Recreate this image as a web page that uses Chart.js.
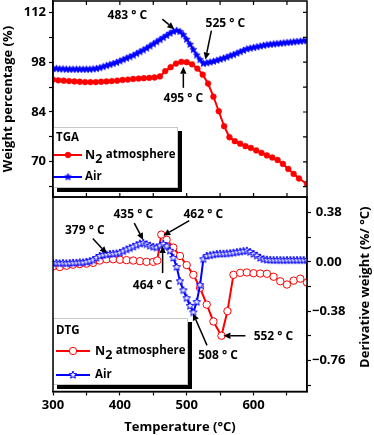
<!DOCTYPE html>
<html>
<head>
<meta charset="utf-8">
<script src="https://cdn.jsdelivr.net/npm/chart.js@4.4.1/dist/chart.umd.min.js"></script>
<style>
  html, body { margin: 0; padding: 0; background: #fff; }
  #wrap { position: relative; width: 374px; height: 435px; }
  #dtg { position: absolute; left: 0; top: 192px; }
  #tga { position: absolute; left: 0; top: 0; }
</style>
</head>
<body>
<div id="wrap">
  <canvas id="dtg" width="374" height="243"></canvas>
  <canvas id="tga" width="374" height="200"></canvas>
</div>
<script>
// ---- data ----
const seriesNames = ['N2 atmosphere', 'Air'];

// TGA, N2 (filled circles)
const tgaN2Temp = [300, 308, 316, 324, 332, 340, 348, 356, 364, 372, 380, 388, 396, 404, 412, 420,
  428, 436, 444, 452, 460, 468, 476, 484, 492, 500, 508, 516, 524, 532, 540, 548, 556, 564, 572,
  580, 588, 596, 604, 612, 620, 628, 636, 644, 652, 660, 668, 680];
const tgaN2Weight = [93.1, 92.9, 92.8, 92.7, 92.6, 92.5, 92.4, 92.4, 92.4, 92.5, 92.6, 92.7, 92.8, 93.0, 93.1, 93.3,
  93.4, 93.5, 93.6, 93.7, 94.0, 95.5, 96.6, 97.6, 98.1, 98.0, 97.4, 96.2, 94.5, 92.0, 88.3, 84.2, 80.0, 76.9, 75.8,
  75.1, 74.4, 73.9, 73.2, 72.5, 71.8, 71.2, 70.5, 69.4, 68.0, 66.6, 65.3, 63.8];

// Air runs (stars), TGA and DTG share the same temperatures
const airTemp = [300, 305, 310, 315, 320, 325, 330, 335, 340, 345,
  350, 355, 360, 365, 370, 375, 380, 385, 390, 395,
  400, 405, 410, 415, 420, 425, 430, 435, 440, 445,
  450, 455, 460, 465, 470, 475, 480, 485, 490, 495,
  500, 505, 510, 515, 520, 525, 530, 535, 540, 545,
  550, 555, 560, 565, 570, 575, 580, 585, 590, 595,
  600, 605, 610, 615, 620, 625, 630, 635, 640, 645,
  650, 655, 660, 665, 670, 675, 680];
const tgaAirWeight = [96.2, 96.2, 96.1, 96.1, 96.0, 96.0, 96.0, 96.0, 96.0, 96.0,
  96.0, 96.0, 96.1, 96.2, 96.4, 96.7, 97.0, 97.3, 97.6, 97.9,
  98.3, 98.7, 99.1, 99.5, 99.9, 100.4, 100.9, 101.4, 101.9, 102.5,
  103.1, 103.7, 104.3, 104.9, 105.5, 106.1, 106.6, 106.9, 106.6, 105.7,
  104.4, 103.0, 101.5, 100.0, 98.7, 97.6, 97.8, 98.0, 98.2, 98.5,
  98.8, 99.1, 99.4, 99.8, 100.1, 100.5, 100.9, 101.3, 101.7, 101.9,
  102.1, 102.3, 102.5, 102.7, 102.9, 103.0, 103.1, 103.2, 103.3, 103.4,
  103.5, 103.6, 103.7, 103.8, 103.9, 104.0, 104.1];
const dtgAirDeriv = [-0.01, -0.01, -0.012, -0.01, -0.012, -0.01, -0.008, -0.008, -0.005, -0.005,
  0.0, 0.005, 0.013, 0.03, 0.045, 0.052, 0.056, 0.06, 0.062, 0.064,
  0.07, 0.082, 0.095, 0.105, 0.116, 0.128, 0.14, 0.145, 0.135, 0.124,
  0.115, 0.11, 0.125, 0.137, 0.12, 0.085, 0.03, -0.04, -0.15, -0.22,
  -0.28, -0.34, -0.39, -0.31, -0.18, 0.02, 0.045, 0.05, 0.055, 0.06,
  0.062, 0.062, 0.064, 0.066, 0.07, 0.074, 0.078, 0.082, 0.085, 0.075,
  0.06, 0.047, 0.03, 0.02, 0.016, 0.014, 0.013, 0.013, 0.013, 0.012,
  0.013, 0.013, 0.013, 0.013, 0.013, 0.013, 0.013];

// DTG, N2 (open circles)
const dtgN2Temp = [300, 310, 320, 330, 340, 350, 360, 370, 380, 390, 400, 410, 420, 430, 440, 450,
  456, 462, 470, 480, 490, 500, 510, 520, 530, 540, 552, 561, 570,
  580, 590, 600, 610, 620, 630, 640, 650, 660, 670, 680];
const dtgN2Deriv = [-0.035, -0.04, -0.03, -0.022, -0.018, -0.014, -0.008, 0.01, 0.02, 0.02, 0.016, 0.013, 0.01, 0.005, 0.0, 0.0,
  0.01, 0.21, 0.17, 0.11, 0.045, -0.025, -0.1, -0.2, -0.33, -0.46, -0.57, -0.38, -0.1,
  -0.085, -0.082, -0.088, -0.09, -0.092, -0.115, -0.15, -0.175, -0.145, -0.13, -0.16];

// axis ticks (empty label = minor tick)
const tempTicks = [300, 350, 400, 450, 500, 550, 600, 650];
const tempLabels = ['300', '', '400', '', '500', '', '600', ''];
const weightTicks = [63, 70, 77, 84, 91, 98, 105, 112];
const weightLabels = ['', '70', '', '84', '', '98', '', '112'];
const derivTicks = [0.38, 0.19, 0, -0.19, -0.38, -0.57, -0.76, -0.95];
const derivLabels = ['0.38', '', '0.00', '', '\u22120.38', '', '\u22120.76', ''];

// peak labels: at = data point, offsets in px for arrow tip, arrow tail, text centre
const tgaNotes = [
  { text: '483 \u00b0 C', at: [483, 107.0], tip: [-1, -1], tail: [-13, -11], pos: [-48, -15] },
  { text: '525 \u00b0 C', at: [525, 97.6], tip: [2, -4], tail: [8, -33], pos: [22, -40] },
  { text: '495 \u00b0 C', at: [495, 98.1], tip: [0, 5], tail: [0, 26], pos: [0, 37] }
];
const dtgNotes = [
  { text: '379 \u00b0 C', at: [379, 0.056], tip: [1, -1], tail: [-13, -16], pos: [-21, -24] },
  { text: '435 \u00b0 C', at: [435, 0.145], tip: [0, -3], tail: [-9, -20], pos: [-10, -28] },
  { text: '462 \u00b0 C', at: [462, 0.21], tip: [2, 1], tail: [28, -14], pos: [42, -20] },
  { text: '464 \u00b0 C', at: [464, 0.137], tip: [0, 2], tail: [0, 29], pos: [-10, 42] },
  { text: '508 \u00b0 C', at: [508, -0.39], tip: [1, 1], tail: [15, 33], pos: [26, 43] },
  { text: '552 \u00b0 C', at: [552, -0.57], tip: [2, 0], tail: [24, 0], pos: [52, 1] }
];

// ---- styling ----
const RED = '#ff0000';
const BLUE = '#0000ff';
const FONT = "'Open Sans', 'DejaVu Sans', sans-serif";
Chart.defaults.font.family = FONT;
Chart.defaults.font.weight = 'bold';
Chart.defaults.font.size = 13;
Chart.defaults.color = '#000';

function starImage(r, fill, stroke, lw) {
  const c = document.createElement('canvas');
  const s = Math.ceil(2 * r + 2 * lw + 2);
  c.width = c.height = s;
  const g = c.getContext('2d');
  g.beginPath();
  for (let k = 0; k < 10; k++) {
    const rr = k % 2 === 0 ? r : r * 0.45;
    const a = -Math.PI / 2 + k * Math.PI / 5;
    const px = s / 2 + rr * Math.cos(a), py = s / 2 + rr * Math.sin(a);
    if (k === 0) g.moveTo(px, py); else g.lineTo(px, py);
  }
  g.closePath();
  g.fillStyle = fill;
  g.fill();
  g.strokeStyle = stroke;
  g.lineWidth = lw;
  g.stroke();
  return c;
}
const starFilled = starImage(3.6, BLUE, BLUE, 0.8);
const starOpen = starImage(4, '#e8e8ff', BLUE, 1);

const pts = (xs, ys) => xs.map((x, i) => ({ x: x, y: ys[i] }));

// no extra room for half tick labels: the panels butt against each other
const noPad = s => { s.paddingTop = 0; s.paddingBottom = 0; };

// arrows + peak temperatures
const notesPlugin = {
  id: 'notes',
  afterDraw(chart, args, opts) {
    const { ctx, scales } = chart;
    ctx.save();
    ctx.strokeStyle = '#000';
    ctx.fillStyle = '#000';
    ctx.lineWidth = 1.5;
    ctx.font = 'bold 12px ' + FONT;
    ctx.textAlign = 'center';
    ctx.textBaseline = 'middle';
    opts.items.forEach(n => {
      const px = scales.x.getPixelForValue(n.at[0]);
      const py = scales.y.getPixelForValue(n.at[1]);
      const tx = px + n.tip[0], ty = py + n.tip[1];
      const sx = px + n.tail[0], sy = py + n.tail[1];
      const ang = Math.atan2(ty - sy, tx - sx);
      const hl = 7, hw = 3.2;
      const bx = tx - hl * Math.cos(ang), by = ty - hl * Math.sin(ang);
      ctx.beginPath();
      ctx.moveTo(sx, sy);
      ctx.lineTo(bx, by);
      ctx.stroke();
      ctx.beginPath();
      ctx.moveTo(tx, ty);
      ctx.lineTo(bx + hw * Math.sin(ang), by - hw * Math.cos(ang));
      ctx.lineTo(bx - hw * Math.sin(ang), by + hw * Math.cos(ang));
      ctx.closePath();
      ctx.fill();
      ctx.fillText(n.text, px + n.pos[0], py + n.pos[1]);
    });
    ctx.restore();
  }
};

// boxed legend with drop shadow
const boxLegend = {
  id: 'boxLegend',
  afterDraw(chart, args, o) {
    const { ctx, chartArea: a } = chart;
    const bx = a.left + o.left, by = o.top;
    ctx.save();
    ctx.fillStyle = '#000';
    ctx.fillRect(bx + 4, by + 4, o.w, o.h);
    ctx.fillStyle = '#fff';
    ctx.fillRect(bx, by, o.w, o.h);
    ctx.strokeStyle = '#c8c8c8';
    ctx.lineWidth = 1;
    ctx.strokeRect(bx + 0.5, by + 0.5, o.w - 1, o.h - 1);
    ctx.fillStyle = '#000';
    ctx.textBaseline = 'middle';
    ctx.textAlign = 'left';
    ctx.font = 'bold 11.5px ' + FONT;
    ctx.fillText(o.title, bx + 3, by + o.titleY);
    chart.data.datasets.forEach((ds, i) => {
      const y = by + o.rows[i];
      ctx.strokeStyle = ds.borderColor;
      ctx.lineWidth = 2;
      ctx.beginPath();
      ctx.moveTo(bx + o.line[0], y);
      ctx.lineTo(bx + o.line[1], y);
      ctx.stroke();
      const mx = bx + o.mark;
      if (ds.pointStyle === 'circle') {
        ctx.beginPath();
        ctx.arc(mx, y, ds.pointRadius, 0, Math.PI * 2);
        ctx.fillStyle = ds.pointBackgroundColor;
        ctx.fill();
        ctx.lineWidth = ds.pointBorderWidth;
        ctx.strokeStyle = ds.pointBorderColor;
        ctx.stroke();
      } else {
        const img = ds.pointStyle;
        ctx.drawImage(img, mx - img.width / 2, y - img.height / 2);
      }
      ctx.fillStyle = '#000';
      let tx = bx + o.text;
      const label = ds.label;
      ctx.font = 'bold 11.5px ' + FONT;
      if (label.startsWith('N2')) {
        ctx.font = 'bold 12.5px ' + FONT;
        ctx.fillText('N', tx, y);
        tx += ctx.measureText('N').width;
        ctx.fillText('2', tx, y + 4);
        tx += ctx.measureText('2').width + 0.5;
        ctx.font = 'bold 11.5px ' + FONT;
        ctx.fillText(label.slice(2), tx, y);
      } else {
        ctx.fillText(label, tx, y);
      }
    });
    ctx.restore();
  }
};

// plot frame, inner ticks, rotated right title
const framePlugin = {
  id: 'frame',
  afterDraw(chart, args, o) {
    const { ctx, chartArea: a, scales } = chart;
    ctx.save();
    ctx.strokeStyle = '#000';
    ctx.lineWidth = 1.5;
    ctx.strokeRect(a.left, a.top, a.right - a.left, a.bottom - a.top);
    if (o.innerTicks) {
      ctx.lineWidth = 1.2;
      ctx.beginPath();
      tempTicks.forEach(t => {
        const x = scales.x.getPixelForValue(t);
        ctx.moveTo(x, a.top); ctx.lineTo(x, a.top + 4);
        ctx.moveTo(x, a.bottom); ctx.lineTo(x, a.bottom - 4);
      });
      weightTicks.forEach(v => {
        const y = scales.y.getPixelForValue(v);
        ctx.moveTo(a.right, y); ctx.lineTo(a.right - 4, y);
      });
      ctx.stroke();
    }
    if (o.rightTitle) {
      ctx.translate(365, (a.top + a.bottom) / 2 - 7);
      ctx.rotate(-Math.PI / 2);
      ctx.fillStyle = '#000';
      ctx.font = 'bold 13px ' + FONT;
      ctx.textAlign = 'center';
      ctx.textBaseline = 'middle';
      ctx.fillText(o.rightTitle, 0, 0);
    }
    ctx.restore();
  }
};

const tickGrid = { drawOnChartArea: false, drawTicks: true, tickLength: 4, color: '#000', tickWidth: 1.2 };

// ---- top panel: TGA ----
new Chart(document.getElementById('tga'), {
  type: 'line',
  data: {
    datasets: [
      { label: seriesNames[0], data: pts(tgaN2Temp, tgaN2Weight), borderColor: RED, borderWidth: 2,
        pointStyle: 'circle', pointRadius: 2.9, pointBackgroundColor: RED, pointBorderColor: RED,
        pointBorderWidth: 0.5, order: 2 },
      { label: seriesNames[1], data: pts(airTemp, tgaAirWeight), borderColor: BLUE, borderWidth: 2,
        pointStyle: starFilled, pointRadius: 3, pointBackgroundColor: BLUE, order: 1 }
    ]
  },
  options: {
    responsive: false,
    animation: false,
    layout: { autoPadding: false, padding: { top: 1, bottom: 3, left: 0, right: 67 } },
    plugins: {
      legend: { display: false },
      tooltip: { enabled: false },
      notes: { items: tgaNotes },
      boxLegend: { title: 'TGA', left: 0, top: 127, w: 125, h: 61, titleY: 11, rows: [28, 50], line: [0, 29], mark: 15, text: 32 },
      frame: { innerTicks: true }
    },
    scales: {
      x: { type: 'linear', min: 300, max: 680, display: false },
      y: {
        min: 60.1, max: 115.2,
        afterBuildTicks: s => { s.ticks = weightTicks.map(v => ({ value: v })); },
        afterFit: s => { s.width = 53; noPad(s); },
        ticks: { callback: (v, i) => weightLabels[i], padding: 3, autoSkip: false },
        grid: tickGrid,
        border: { color: '#000', width: 1.5 },
        title: { display: true, text: 'Weight percentage (%)', padding: 0 }
      }
    }
  },
  plugins: [notesPlugin, boxLegend, framePlugin]
});

// ---- bottom panel: DTG ----
new Chart(document.getElementById('dtg'), {
  type: 'line',
  data: {
    datasets: [
      { label: seriesNames[0], data: pts(dtgN2Temp, dtgN2Deriv), borderColor: RED, borderWidth: 2,
        pointStyle: 'circle', pointRadius: 3.7, pointBackgroundColor: '#fff', pointBorderColor: RED,
        pointBorderWidth: 1, order: 2 },
      { label: seriesNames[1], data: pts(airTemp, dtgAirDeriv), borderColor: BLUE, borderWidth: 2,
        pointStyle: starOpen, pointRadius: 3, order: 1 }
    ]
  },
  options: {
    responsive: false,
    animation: false,
    layout: { autoPadding: false, padding: { top: 5, bottom: 0, left: 53, right: 0 } },
    plugins: {
      legend: { display: false },
      tooltip: { enabled: false },
      notes: { items: dtgNotes },
      boxLegend: { title: 'DTG', left: 0, top: 126, w: 135, h: 67, titleY: 13, rows: [33, 57], line: [3, 37], mark: 20, text: 42 },
      frame: { innerTicks: false, rightTitle: 'Derivative weight (%/ \u00b0C)' }
    },
    scales: {
      x: {
        type: 'linear', min: 300, max: 680,
        afterBuildTicks: s => { s.ticks = tempTicks.map(v => ({ value: v })); },
        afterFit: s => { s.height = 43.5; },
        ticks: { callback: (v, i) => tempLabels[i], padding: 2, autoSkip: false, maxRotation: 0 },
        grid: tickGrid,
        border: { color: '#000', width: 1.5 },
        title: { display: true, text: 'Temperature (\u00b0C)', padding: { top: 0, bottom: 0 } }
      },
      y: {
        position: 'right', min: -1.0, max: 0.5,
        afterBuildTicks: s => { s.ticks = derivTicks.map(v => ({ value: v })); },
        afterFit: s => { s.width = 67; noPad(s); },
        ticks: { callback: (v, i) => derivLabels[i], padding: 1, crossAlign: 'center', autoSkip: false },
        grid: tickGrid,
        border: { color: '#000', width: 1.5 }
      }
    }
  },
  plugins: [notesPlugin, boxLegend, framePlugin]
});
</script>
</body>
</html>
